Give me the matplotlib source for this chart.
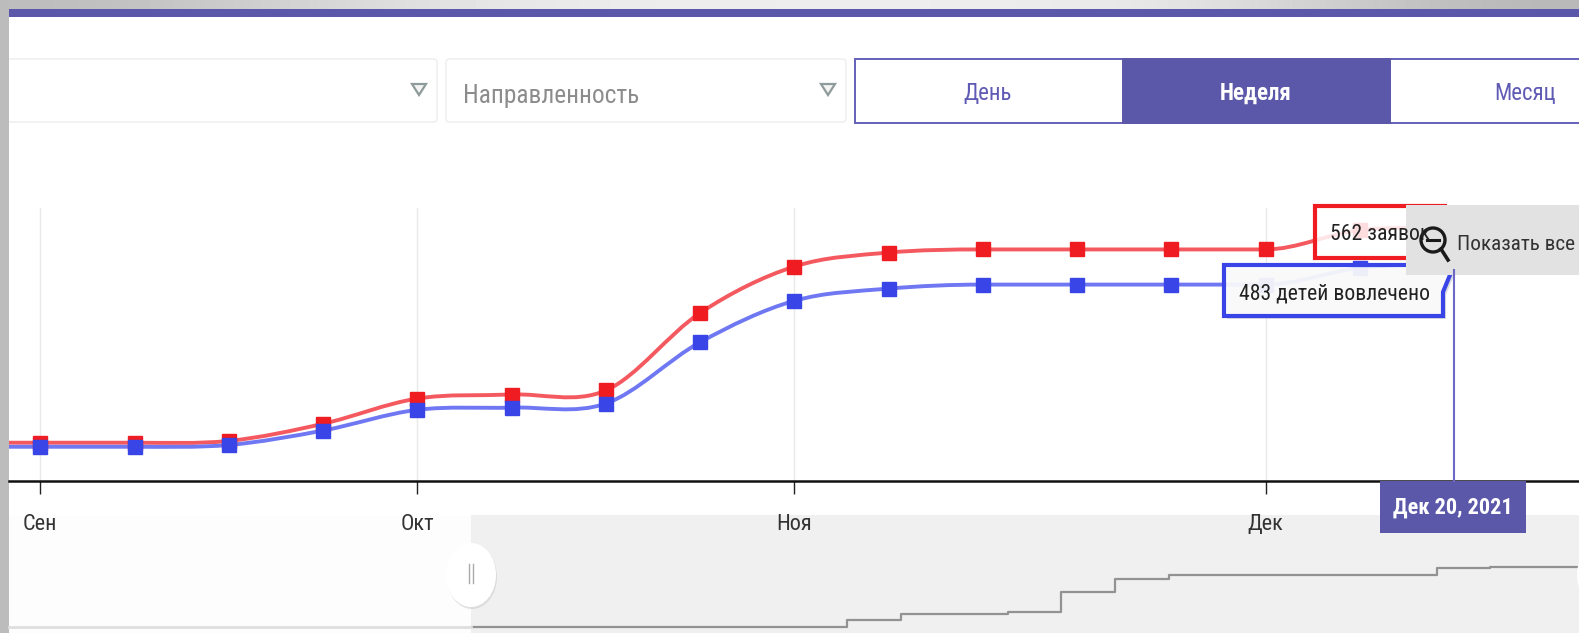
import matplotlib
matplotlib.use('Agg')
import matplotlib.pyplot as plt
import matplotlib.patches as patches
from matplotlib.path import Path
from matplotlib import font_manager
import numpy as np

W, H = 1579, 633

# weekly points, month ticks sit on some of them
weeks = list(range(16))
requests = [85, 85, 89, 127, 183, 192, 201, 373, 476, 507, 514, 514, 514, 514, 557, 562]
children = [76, 76, 80, 112, 158, 163, 172, 308, 400, 427, 436, 436, 436, 436, 473, 483]
month_ticks = [0, 4, 8, 13]
month_labels = ['Сен', 'Окт', 'Ноя', 'Дек']

# overview strip under the chart
nav_weeks = list(range(-15, 15))
nav_values = [0] * 15 + [66, 122, 122, 140, 328, 450, 487, 487, 487, 487, 487, 553, 562, 562, 562]

buttons = ['День', 'Неделя', 'Месяц']

PURPLE = '#5b57a9'
RED = '#ef1c22'
BLUE = '#3a45e8'

# the screenshot text is squeezed, a condensed face is closest when there is one
names = {f.name for f in font_manager.fontManager.ttflist}
if 'Roboto Condensed' in names:
    plt.rcParams['font.family'] = ['Roboto Condensed', 'DejaVu Sans']
    FS = 1.0
else:
    plt.rcParams['font.family'] = ['Liberation Sans', 'DejaVu Sans']
    FS = 0.86


def smooth_path(xs, ys):
    # same kind of rounded line as the original chart, bezier through the data
    xs = np.array(xs, dtype=float)
    ys = np.array(ys, dtype=float)
    slopes = np.gradient(ys, xs)
    d = np.diff(ys) / np.diff(xs)
    for i in range(1, len(xs) - 1):
        if d[i - 1] * d[i] <= 0:
            slopes[i] = 0
    verts = [(xs[0], ys[0])]
    codes = [Path.MOVETO]
    for i in range(len(xs) - 1):
        h = (xs[i + 1] - xs[i]) / 3
        verts += [(xs[i] + h, ys[i] + slopes[i] * h),
                  (xs[i + 1] - h, ys[i + 1] - slopes[i + 1] * h),
                  (xs[i + 1], ys[i + 1])]
        codes += [Path.CURVE4] * 3
    return Path(verts, codes)


fig = plt.figure(figsize=(W / 100, H / 100), dpi=100)
fig.patch.set_facecolor('white')

# page chrome, in pixels
bg = fig.add_axes([0, 0, 1, 1], zorder=0)
bg.axis('off')

grad = np.array([[0.74, 0.80, 0.87, 0.92, 0.93, 0.93, 0.93, 0.90, 0.80, 0.72]])
bg.imshow(grad, extent=(0, W, 9, 0), cmap='gray', vmin=0, vmax=1, aspect='auto', interpolation='bicubic')
bg.set_xlim(0, W)
bg.set_ylim(H, 0)
bg.add_patch(patches.Rectangle((0, 0), 9, H, facecolor='#bcbcbc', edgecolor='none'))
bg.add_patch(patches.Rectangle((9, 9), W - 9, 8, facecolor=PURPLE, edgecolor='none'))

# dropdowns
for x0, x1 in [(-10, 437), (446, 846)]:
    bg.add_patch(patches.FancyBboxPatch((x0, 59), x1 - x0, 63, boxstyle='round,pad=0,rounding_size=3',
                                        facecolor='white', edgecolor='#eef0f2', linewidth=1.2))
    tri = x1 - 18
    bg.add_patch(patches.Polygon([(tri - 7, 84), (tri + 7, 84), (tri, 95)], closed=True,
                                 facecolor='#f4f4f4', edgecolor='#8f9a9a', linewidth=1.6))
bg.add_patch(patches.Rectangle((0, 50), 9, 80, facecolor='#bcbcbc', edgecolor='none', zorder=3))
bg.text(463, 96, 'Направленность', fontsize=18.3 * FS, color='#8c8c8c', va='center', ha='left')

# period switch
bg.add_patch(patches.Rectangle((855, 59), W - 855 + 5, 64, facecolor='white', edgecolor='#6460b8', linewidth=1.4))
bg.add_patch(patches.Rectangle((1123, 59), 267, 64, facecolor=PURPLE, edgecolor=PURPLE, linewidth=1.4))
for name, cx in zip(buttons, [988, 1256, 1525]):
    active = name == 'Неделя'
    bg.text(cx, 93, name, fontsize=16.5 * FS, color='white' if active else '#5f5bb5',
            fontweight='bold' if active else 'normal', ha='center', va='center')

# overview strip
bg.add_patch(patches.Rectangle((471, 515), W - 471, H - 515, facecolor='#f0f0f0', edgecolor='none'))

nav = fig.add_axes([0, 0, 1, 1], zorder=1)
nav.patch.set_alpha(0)
nav.axis('off')
# y: 627 px is value 0, 567 px is 562 ; x: 847 px is week 0, 53.6 px per week
nav.set_xlim(-847 / 53.6, (W - 847) / 53.6)
nav.set_ylim(-6 * 9.37, 627 * 9.37)
nav.step(nav_weeks, nav_values, where='post', color='#929292', linewidth=1.6)
nav.set_xlim(-847 / 53.6, (W - 847) / 53.6)
nav.set_ylim(-6 * 9.37, 627 * 9.37)
# part of the overview outside the selected range is washed out
nav.add_patch(patches.Rectangle((9 / 53.6 - 847 / 53.6, -56), (471 - 9) / 53.6, 1100, facecolor='#fdfdfd',
                                edgecolor='none', zorder=5))
nav.axhline(0, xmin=9 / W, xmax=471 / W, color='#dedede', linewidth=2, zorder=6)

# main chart
ax = fig.add_axes([9 / W, (H - 481) / H, (W - 9) / W, 273 / H], zorder=2)
ax.patch.set_alpha(0)
ax.set_xlim((9 - 40.3) / 94.25, (W - 40.3) / 94.25)
ax.set_ylim(0, 606)
for s in ['top', 'left', 'right']:
    ax.spines[s].set_visible(False)
ax.spines['bottom'].set_linewidth(1.8)
ax.spines['bottom'].set_color('#111111')
ax.set_yticks([])
ax.set_xticks(month_ticks)
ax.set_xticklabels(month_labels, fontsize=16 * FS, color='#333333')
ax.tick_params(axis='x', length=9, width=1, color='#222222', pad=15)
ax.grid(axis='x', color='#e9e9e9', linewidth=1)
ax.set_axisbelow(True)

lead_x = [ax.get_xlim()[0]]
ax.add_patch(patches.PathPatch(smooth_path(lead_x + weeks, [requests[0]] + requests), fill=False,
                               edgecolor='#f4595f', linewidth=2.8, zorder=3))
ax.add_patch(patches.PathPatch(smooth_path(lead_x + weeks, [children[0]] + children), fill=False,
                               edgecolor='#6f78f2', linewidth=2.8, zorder=3))
ax.plot(weeks[:-1], requests[:-1], linestyle='none', marker='s', markersize=10, color=RED, zorder=4)
ax.plot(weeks[:-1], children[:-1], linestyle='none', marker='s', markersize=10, color=BLUE, zorder=5)

# everything floating above the chart, pixels again
top = fig.add_axes([0, 0, 1, 1], zorder=6)
top.set_xlim(0, W)
top.set_ylim(H, 0)
top.axis('off')

top.plot([1454, 1454], [270, 481], color='#6d68c4', linewidth=1.5)

top.add_patch(patches.Rectangle((1315, 206), 130, 52, facecolor='white', alpha=0.85, edgecolor='none'))
top.add_patch(patches.Rectangle((1315, 206), 130, 52, fill=False, edgecolor=RED, linewidth=3))
top.text(1330, 235, '562 заявок', fontsize=15.7 * FS, color='#222222', va='center', ha='left')

box = [(1224, 265), (1224, 316), (1443, 316), (1443, 292), (1450, 275), (1450, 265)]
top.add_patch(patches.Polygon([(x + 3, y + 3) for x, y in box], closed=True, facecolor='#c8c8c8',
                              edgecolor='none', alpha=0.6))
top.add_patch(patches.Polygon(box, closed=True, facecolor='white', alpha=0.85, edgecolor='none'))
top.add_patch(patches.Polygon(box, closed=True, fill=False, edgecolor=BLUE, linewidth=3))
top.text(1239, 294, '483 детей вовлечено', fontsize=15.7 * FS, color='#222222', va='center', ha='left')

top.add_patch(patches.Rectangle((1406, 205), W - 1406, 70, facecolor='#e2e2e2', edgecolor='none'))
top.add_patch(patches.Ellipse((1433, 240), 24, 24, fill=False, edgecolor='#1a1a1a', linewidth=2.4))
top.plot([1441, 1448], [249, 260], color='#1a1a1a', linewidth=2.6)
top.plot([1427, 1439], [240, 240], color='#1a1a1a', linewidth=2.2)
top.text(1457, 244, 'Показать все', fontsize=15.3 * FS, color='#333333', va='center', ha='left')

top.add_patch(patches.Rectangle((1380, 481), 146, 52, facecolor=PURPLE, edgecolor='none'))
top.text(1453, 508, 'Дек 20, 2021', fontsize=16 * FS, color='white', fontweight='bold', va='center', ha='center')

# slider handles
for cx in [471, 1602]:
    top.add_patch(patches.Ellipse((cx + 1, 577), 50, 64, facecolor='#d4d4d4', edgecolor='none', alpha=0.7))
    top.add_patch(patches.Ellipse((cx, 575), 50, 64, facecolor='white', edgecolor='none'))
top.plot([469, 469], [564, 583], color='#aaaaaa', linewidth=1)
top.plot([473, 473], [564, 583], color='#aaaaaa', linewidth=1)

fig.savefig('out.png', dpi=100)
